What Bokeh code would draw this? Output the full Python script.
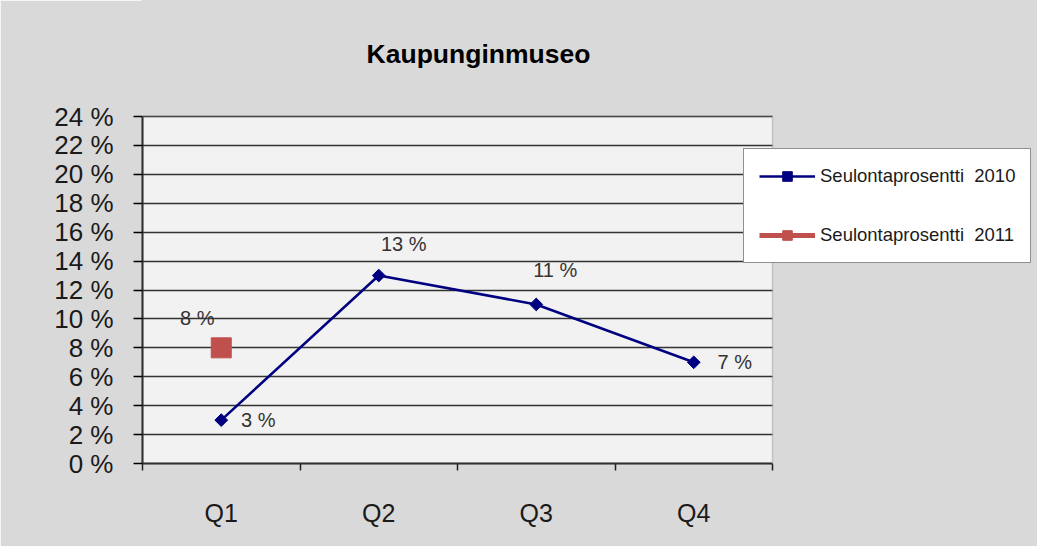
import math
from bokeh.plotting import figure
from bokeh.models import (Range1d, FixedTicker, Label, Legend, LegendItem, BoxAnnotation)
from bokeh.embed import file_html
from bokeh.resources import INLINE

# ---- data ----
title_text = "Kaupunginmuseo"
categories = ["Q1", "Q2", "Q3", "Q4"]
series_2010_name = "Seulontaprosentti  2010"
series_2011_name = "Seulontaprosentti  2011"
values_2010 = [3, 13, 11, 7]          # percent
values_2011 = [8]                     # percent, Q1 only
y_ticks = list(range(0, 26, 2))
y_tick_labels = {t: f"{t} %" for t in y_ticks}
y_max = 24

# ---- layout constants (pixels) ----
W, H = 1037, 546
LEFT, BOTTOM = 142, 83
PLOT_W, PLOT_H = 630, 347          # visible plot area
FRAME_W, FRAME_H = W - LEFT, H - BOTTOM

FONT = "Liberation Sans"
GRAY = "#d9d9d9"
n = len(categories)
xs_2010 = [i + 1 for i in range(len(values_2010))]
xs_2011 = [i + 1 for i in range(len(values_2011))]

x_end = 0.5 + n * FRAME_W / PLOT_W
y_end = y_max * FRAME_H / PLOT_H

p = figure(width=W, height=H, output_backend="svg", toolbar_location=None,
           x_range=Range1d(0.5, x_end), y_range=Range1d(0, y_end),
           min_border_left=LEFT, min_border_right=0, min_border_top=0,
           min_border_bottom=BOTTOM)
p.border_fill_color = GRAY
p.background_fill_color = GRAY
p.outline_line_color = GRAY
p.outline_line_width = 2

# light plot-area fill, drawn under the grid
plot_bg = BoxAnnotation(left=0.5, right=n + 0.5, bottom=0, top=y_max,
                        fill_color="#f2f2f2", fill_alpha=1, line_color=None,
                        level="underlay")
p.renderers.append(plot_bg)

# y axis
p.yaxis.ticker = FixedTicker(ticks=y_ticks)
p.yaxis.bounds = (0, y_max)
p.yaxis.major_label_overrides = y_tick_labels
p.yaxis.major_label_text_font = FONT
p.yaxis.major_label_text_font_size = "26px"
p.yaxis.major_label_text_color = "#1a1a1a"
p.yaxis.major_tick_in = 0
p.yaxis.major_tick_out = 9
p.yaxis.minor_tick_line_color = None
p.yaxis.axis_line_color = "#222222"
p.yaxis.axis_line_width = 2
p.yaxis.major_tick_line_width = 1.5
p.yaxis.major_label_standoff = 20

# x axis
p.xaxis.ticker = FixedTicker(ticks=xs_2010,
                             minor_ticks=[x - 0.5 for x in xs_2010] + [xs_2010[-1] + 0.5])
p.xaxis.bounds = (0.5, n + 0.5)
p.xaxis.major_label_overrides = {x: c for x, c in zip(xs_2010, categories)}
p.xaxis.major_label_text_font = FONT
p.xaxis.major_label_text_font_size = "25px"
p.xaxis.major_label_text_color = "#1a1a1a"
p.xaxis.major_tick_in = 0
p.xaxis.major_tick_out = 0
p.xaxis.minor_tick_in = 0
p.xaxis.minor_tick_out = 7
p.xaxis.minor_tick_line_width = 1.5
p.xaxis.minor_tick_line_color = "#222222"
p.xaxis.axis_line_color = "#222222"
p.xaxis.axis_line_width = 2
p.xaxis.major_label_standoff = 28

# grid
p.xgrid.grid_line_color = None
p.ygrid.ticker = FixedTicker(ticks=y_ticks)
p.ygrid.grid_line_color = "#333333"
p.ygrid.grid_line_width = 1.5

# series
l1 = p.line(xs_2010, values_2010, line_color="#000080", line_width=2.5)
m1 = p.scatter(xs_2010, values_2010, marker="square", size=9, angle=math.pi / 4,
               fill_color="#000080", line_color="#000080")
l2 = p.line(xs_2011, values_2011, line_color="#c0504d", line_width=5)
m2 = p.scatter(xs_2011, values_2011, marker="square", size=20,
               fill_color="#c0504d", line_color="#c0504d")

# hide grid lines right of the plot area
p.add_layout(BoxAnnotation(left=n + 0.5, fill_color=GRAY, fill_alpha=1,
                           line_color=None))
# plot-area border
p.add_layout(BoxAnnotation(left=0.5, right=n + 0.5, bottom=0, top=y_max,
                           fill_alpha=0, line_color="#7f7f7f", line_width=1.5))

# data labels
offs_2010 = [(37, 0), (25, 32), (19, 34), (41, 0)]
for x, v, (dx, dy) in zip(xs_2010, values_2010, offs_2010):
    p.add_layout(Label(x=x, y=v, x_offset=dx, y_offset=dy, text=f"{v} %",
                       text_font=FONT, text_font_size="20px", text_color="#333333",
                       text_align="center", text_baseline="middle"))
offs_2011 = [(-24, 30)]
for x, v, (dx, dy) in zip(xs_2011, values_2011, offs_2011):
    p.add_layout(Label(x=x, y=v, x_offset=dx, y_offset=dy, text=f"{v} %",
                       text_font=FONT, text_font_size="20px", text_color="#333333",
                       text_align="center", text_baseline="middle"))

# title
p.add_layout(Label(x=336, y=FRAME_H - 53, x_units="screen", y_units="screen",
                   text=title_text, text_font=FONT, text_font_size="26.5px",
                   text_font_style="bold", text_color="#000000",
                   text_align="center", text_baseline="middle"))

legend = Legend(items=[LegendItem(label=series_2010_name, renderers=[l1, m1]),
                       LegendItem(label=series_2011_name, renderers=[l2, m2])],
                location=(601, 200), orientation="vertical",
                label_text_font=FONT, label_text_font_size="18.5px",
                label_text_color="#1a1a1a",
                glyph_width=56, glyph_height=24, label_height=24,
                spacing=35, padding=15, margin=0, label_standoff=5,
                border_line_color="#222222", border_line_width=1.5,
                background_fill_color="#ffffff", background_fill_alpha=1)
p.add_layout(legend, "center")

open("out.html", "w").write(file_html(p, INLINE))
